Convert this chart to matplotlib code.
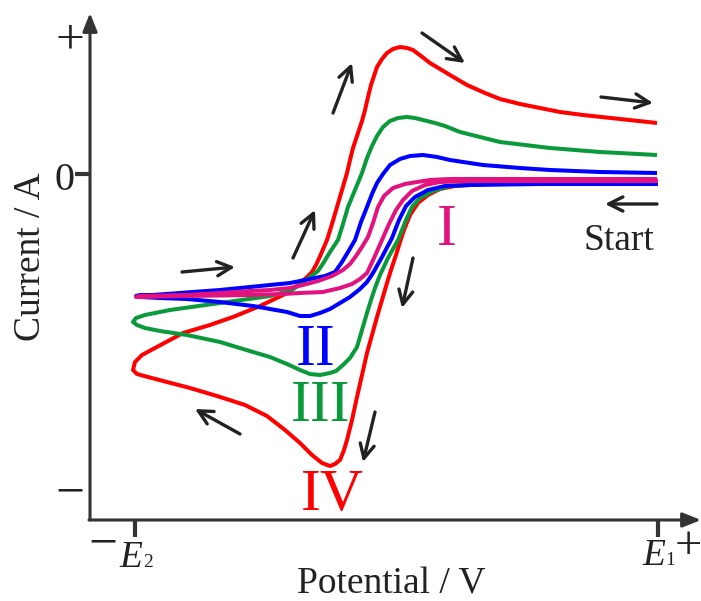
import matplotlib
matplotlib.use("Agg")
import matplotlib.pyplot as plt

# ---------------- data (potential: E2 = 0 ... E1 = 523, current: arbitrary units) ----------------
E2_pos, E1_pos = 0, 523

# Curve IV (red)
iv_fwd_E = [523, 465, 405, 355, 335, 320, 305, 293, 283, 275, 269, 265, 261, 256, 252, 247, 242, 237, 232, 227, 222, 217, 212, 209, 205, 200, 195, 187, 177, 165, 150, 132, 110, 82, 55, 32, 13, 2, -2]
iv_fwd_I = [-9, -9, -9, -10, -11, -12, -15, -21, -29, -41, -56, -68, -81, -96, -109, -126, -143, -161, -179, -201, -223, -246, -266, -276, -286, -290, -292, -289, -281, -269, -256, -242, -231, -222, -214, -208, -203, -200, -196]
iv_rev_E = [0, 7, 20, 48, 75, 98, 125, 150, 163, 171, 177, 181, 186, 192, 197, 202, 207, 212, 215, 218, 223, 227, 230, 233, 236, 239, 242, 247, 252, 258, 265, 272, 278, 286, 295, 315, 332, 350, 365, 385, 405, 425, 448, 485, 522]
iv_rev_I = [-188, -181, -174, -159, -151, -143, -132, -120, -111, -104, -98, -91, -80, -66, -50, -33, -16, 1, 14, 26, 41, 53, 64, 77, 89, 98, 107, 115, 121, 125, 127, 126, 124, 118, 111, 99, 89, 81, 75, 70, 66, 62, 59, 55, 51]

# Curve III (green)
iii_fwd_E = [523, 405, 345, 330, 315, 298, 285, 277, 271, 263, 253, 245, 240, 236, 232, 227, 222, 215, 208, 201, 195, 185, 175, 165, 152, 135, 118, 85, 52, 25, 10, 2, -2]
iii_fwd_I = [-9, -9, -10, -11, -12, -17, -24, -33, -46, -66, -84, -101, -114, -126, -139, -156, -173, -184, -191, -197, -199, -201, -200, -196, -190, -183, -178, -168, -161, -157, -154, -151, -148]
iii_rev_E = [1, 10, 35, 85, 135, 157, 167, 175, 183, 189, 195, 203, 208, 213, 220, 227, 232, 237, 242, 248, 255, 263, 272, 280, 288, 300, 310, 325, 345, 365, 390, 415, 465, 522]
iii_rev_I = [-144, -141, -136, -129, -122, -116, -109, -103, -97, -88, -78, -66, -50, -33, -16, 1, 16, 28, 38, 47, 53, 56, 57, 56, 54, 51, 48, 42, 37, 32, 29, 26, 22, 19]

# Curve II (blue)
ii_fwd_E = [523, 405, 335, 310, 293, 280, 271, 264, 257, 247, 238, 232, 225, 215, 205, 195, 185, 175, 165, 152, 118, 85, 52, 25, 5, 1]
ii_fwd_I = [-10, -10, -11, -12, -16, -23, -32, -46, -64, -83, -99, -108, -115, -123, -129, -135, -139, -142, -142, -138, -132, -128, -125, -124, -123, -122]
ii_rev_E = [1, 5, 18, 85, 135, 155, 175, 190, 200, 207, 213, 220, 226, 232, 237, 242, 248, 255, 265, 275, 288, 302, 315, 348, 385, 415, 465, 522]
ii_rev_I = [-122, -121, -121, -116, -111, -109, -105, -102, -98, -88, -78, -66, -48, -33, -20, -9, 0, 9, 15, 18, 19, 17, 14, 9, 6, 4, 2, 1]

# Curve I (magenta)
i_fwd_E = [523, 405, 335, 305, 290, 277, 268, 261, 254, 247, 239, 232, 225, 217, 205, 188, 165, 148, 118, 52, 5, 1]
i_fwd_I = [-7, -7, -7, -8, -11, -17, -26, -36, -50, -66, -84, -99, -105, -110, -114, -118, -119, -120, -121, -122, -123, -123]
i_rev_E = [1, 5, 52, 85, 115, 135, 155, 168, 183, 197, 208, 215, 221, 227, 233, 238, 243, 249, 258, 270, 282, 295, 315, 415, 522]
i_rev_I = [-123, -122, -121, -119, -117, -116, -114, -111, -107, -102, -96, -90, -82, -73, -63, -49, -33, -22, -14, -10, -8, -6, -5, -5, -5]

curve_labels = ["I", "II", "III", "IV"]
curve_colors = ["#e2137f", "#0000ff", "#0a9a3c", "#ff0000"]

# ---------------- figure ----------------
plt.rcParams["font.family"] = ["Liberation Serif", "DejaVu Serif"]
fig = plt.figure(figsize=(7.01, 6.01), dpi=100)
ax = fig.add_axes([0, 0, 1, 1])
ax.set_xlim(-135, 566)
ax.set_ylim(-427, 174)
ax.axis("off")

axis_col = "#333333"
txt_col = "#222222"

# axes with arrows
ax.annotate("", xy=(-45, 161), xytext=(-45, -346),
            arrowprops=dict(arrowstyle="-|>,head_length=0.55,head_width=0.22",
                            lw=2.2, color=axis_col, shrinkA=0, shrinkB=0, mutation_scale=20))
ax.annotate("", xy=(566, -346), xytext=(-46, -346),
            arrowprops=dict(arrowstyle="-|>,head_length=0.55,head_width=0.22",
                            lw=2.2, color=axis_col, shrinkA=0, shrinkB=0, mutation_scale=20))
# ticks
ax.plot([E2_pos, E2_pos], [-346, -363], color=axis_col, lw=3, solid_capstyle="butt")
ax.plot([E1_pos, E1_pos], [-346, -363], color=axis_col, lw=3, solid_capstyle="butt")
ax.plot([-60, -45], [0, 0], color=axis_col, lw=3, solid_capstyle="butt")

# curves
lw = 2.9
series = [
    (iv_fwd_E + iv_rev_E, iv_fwd_I + iv_rev_I, curve_colors[3]),
    (iii_fwd_E + iii_rev_E, iii_fwd_I + iii_rev_I, curve_colors[2]),
    (ii_fwd_E + ii_rev_E, ii_fwd_I + ii_rev_I, curve_colors[1]),
    (i_fwd_E + i_rev_E, i_fwd_I + i_rev_I, curve_colors[0]),
]
for E, I, c in series:
    ax.plot(E, I, color=c, lw=lw, solid_joinstyle="round", solid_capstyle="butt")

# direction arrows
arrows = [
    ((47, -98), (100, -93)),
    ((158, -84), (180, -36)),
    ((198, 61), (217, 111)),
    ((287, 141), (330, 111)),
    ((466, 77), (518, 71)),
    ((522, -30), (470, -30)),
    ((278, -84), (267, -134)),
    ((240, -238), (228, -288)),
    ((105, -260), (60, -235)),
]
for start, end in arrows:
    ax.annotate("", xy=end, xytext=start,
                arrowprops=dict(arrowstyle="->,head_length=0.6,head_width=0.3",
                                lw=2.4, color=txt_col, shrinkA=0, shrinkB=0,
                                mutation_scale=17))

# labels of curves
ax.text(312, -71, curve_labels[0], color=curve_colors[0], fontsize=43, ha="center", va="baseline")
ax.text(181, -191, curve_labels[1], color=curve_colors[1], fontsize=43, ha="center", va="baseline")
ax.text(186, -247, curve_labels[2], color=curve_colors[2], fontsize=43, ha="center", va="baseline")
ax.text(197, -336, curve_labels[3], color=curve_colors[3], fontsize=43, ha="center", va="baseline")

ax.text(484, -76, "Start", color=txt_col, fontsize=27, ha="center", va="baseline")

# axis texts
ax.text(-65, 121, "+", color=txt_col, fontsize=37, ha="center", va="baseline")
ax.text(-71, -16, "0", color=txt_col, fontsize=29, ha="center", va="baseline")
ax.text(-65, -332, "\u2212", color=txt_col, fontsize=37, ha="center", va="baseline")
ax.text(-32, -383, "\u2212", color=txt_col, fontsize=37, ha="center", va="baseline")
ax.text(553, -385, "+", color=txt_col, fontsize=35, ha="center", va="baseline")

ax.text(-4, -393, "E", color=txt_col, fontsize=27, style="italic", ha="center", va="baseline")
ax.text(13, -393, "2", color=txt_col, fontsize=14, ha="center", va="baseline")
ax.text(519, -391, "E", color=txt_col, fontsize=27, style="italic", ha="center", va="baseline")
ax.text(535, -391, "1", color=txt_col, fontsize=14, ha="center", va="baseline")

ax.text(256, -419, "Potential / V", color=txt_col, fontsize=27, ha="center", va="baseline")
ax.text(-95, -83, "Current / A", color=txt_col, fontsize=27, rotation=90,
        rotation_mode="anchor", ha="center", va="baseline")

fig.savefig("out.png", dpi=100)
